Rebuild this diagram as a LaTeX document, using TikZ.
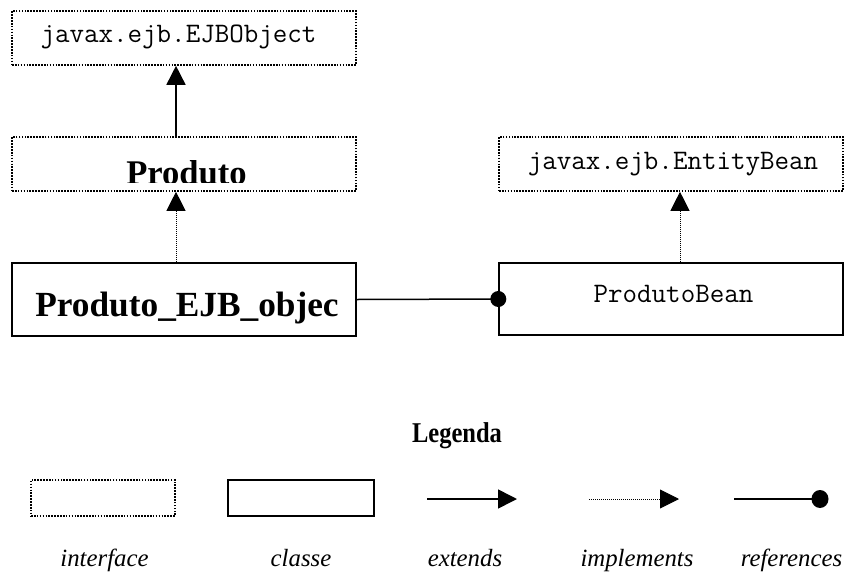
\documentclass[tikz,border=0pt]{standalone}
\usepackage{fontspec}
\setmainfont{Liberation Serif}
\usetikzlibrary{arrows.meta}
\begin{document}
\begin{tikzpicture}[x=1pt,y=-1pt,
  iface/.style={draw, line width=1.6pt, dash pattern=on 1.6pt off 1.3pt, inner sep=0pt},
  cls/.style={draw, line width=1.8pt, inner sep=0pt},
  clsthin/.style={draw, line width=1.4pt, inner sep=0pt},
  mono/.style={font=\ttfamily\fontsize{28.2}{30}\selectfont, inner sep=0pt, anchor=base},
  bigbold/.style={font=\bfseries\fontsize{#1}{#1}\selectfont, inner sep=0pt, anchor=base},
  lab/.style={font=\itshape\fontsize{24.8}{28}\selectfont, inner sep=0pt, anchor=base},
  ext/.style={-{Triangle[length=19pt,width=19pt]}, line width=1.6pt},
  impl/.style={-{Triangle[length=19pt,width=19pt]}, line width=0.9pt, dash pattern=on 1pt off 1pt},
  refl/.style={line width=1.5pt}
]
\useasboundingbox (0,0) rectangle (847,571);

% boxes
\node[iface, minimum width=344pt, minimum height=54pt] (ejbobj) at (184,38) {};
\node[iface, minimum width=344pt, minimum height=54pt] (produto) at (184,164) {};
\node[cls, minimum width=344pt, minimum height=73pt] (pejb) at (184,299.5) {};
\node[iface, minimum width=344pt, minimum height=54pt] (entity) at (671,164) {};
\node[clsthin, minimum width=344pt, minimum height=72pt] (pbean) at (671,299) {};

% texts
\node[mono] (tejb) at (178.5,42) {javax.ejb.EJBObject};
\begin{scope}
  \clip (12,137) rectangle (356,182);
  \node[bigbold=34.6] (tprod) at (186.5,184) {Produto};
\end{scope}
\node[bigbold=35.3] (tpejb) at (187,316) {Produto\_EJB\_objec};
\node[mono] (tent) at (673,169) {javax.ejb.EntityBean};
\node[mono] (tbean) at (673.5,302) {ProdutoBean};

% connectors
\coordinate (cx1) at (176,0);
\coordinate (cx2) at (680,0);
\draw[ext] (produto.north -| cx1) -- (ejbobj.south -| cx1);
\draw[impl] (pejb.north -| cx1) -- (produto.south -| cx1);
\draw[impl] (pbean.north -| cx2) -- (entity.south -| cx2);
\draw[refl] (pejb.east) -- (pbean.west);
\fill (pbean.west) circle (8);

% legend
\node[font=\bfseries\fontsize{24.5}{28}\selectfont, inner sep=0pt, anchor=base] (leg) at (457,442) {\scalebox{1}[1.17]{Legenda}};
\node[iface, minimum width=144pt, minimum height=36pt] (liface) at (103,498) {};
\node[cls, minimum width=146pt, minimum height=36pt] (lcls) at (301,498) {};
\coordinate (e1) at (427,499);
\coordinate (e2) at (517,499);
\draw[ext] (e1) -- (e2);
\coordinate (i1) at (589,499);
\coordinate (i2) at (679,499);
\draw[impl] (i1) -- (i2);
\coordinate (r1) at (734,499);
\coordinate (r2) at (820,499);
\draw[refl] (r1) -- (r2);
\fill (r2) ellipse (8.5 and 9);

\node[lab] (l1) at (104.5,566) {interface};
\node[lab] (l2) at (301,566) {classe};
\node[lab] (l3) at (465,566) {extends};
\node[lab] (l4) at (637,566) {implements};
\node[lab] (l5) at (791.5,566) {references};
\end{tikzpicture}
\end{document}
